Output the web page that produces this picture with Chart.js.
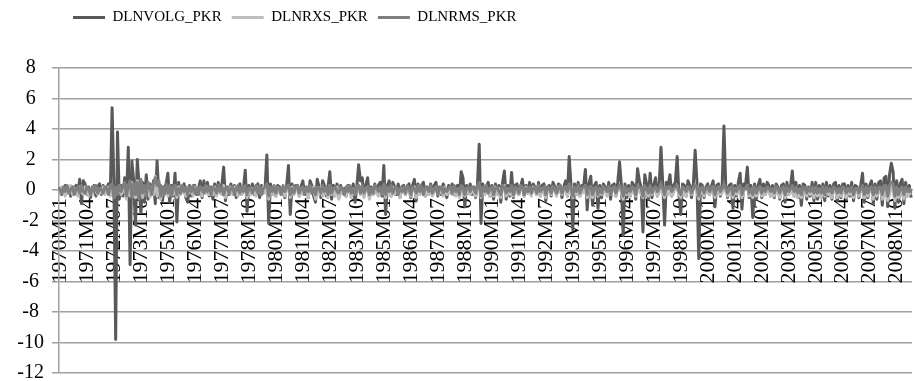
<!DOCTYPE html>
<html>
<head>
<meta charset="utf-8">
<script src="https://cdn.jsdelivr.net/npm/chart.js@4.4.0/dist/chart.umd.min.js"></script>
<style>
  html, body { margin: 0; padding: 0; background: #fff; }
</style>
</head>
<body>
<canvas id="chart" width="915" height="381"></canvas>
<script>
// monthly values, 1970M01 .. 2009M06, one row per year
const dlnvolg = [
  0.2, -0.3, 0.1, 0.3, -0.2, 0.1, -0.4, 0.2, 0.0, 0.3, -0.2, 0.7,
  -0.9, 0.6, 0.4, -0.3, 0.2, -0.5, 0.1, 0.3, -0.4, 0.2, 0.4, -0.3,
  0.3, -0.2, 0.1, 0.4, -0.3, 5.4, 0.5, -9.8, 3.8, -0.6, 0.3, -0.4,
  0.8, -0.5, 2.8, -4.9, 1.9, 0.6, -2.3, 2.0, 0.3, -1.5, 0.5, -0.8,
  1.0, -0.6, 0.4, -0.3, 0.6, -0.9, 1.9, -0.5, 0.3, -0.7, 0.2, 0.4,
  1.1, -0.8, 0.3, -0.4, 1.1, -2.1, 0.5, -0.3, 0.2, 0.4, -0.5, -0.8,
  0.3, -0.4, 0.2, 0.3, -0.3, 0.1, 0.6, -0.5, 0.6, -0.2, 0.5, -0.4,
  0.2, -0.6, 0.4, -0.3, 0.5, -0.2, 0.3, 1.5, -0.7, 0.2, -0.3, 0.4,
  -0.2, 0.3, -0.5, 0.2, 0.4, -0.3, 0.1, 1.3, -1.4, 0.3, -0.2, 0.4,
  -0.3, 0.2, 0.4, -0.5, 0.3, -0.2, 0.1, 2.3, -2.2, 0.4, -0.3, 0.2,
  -0.4, 0.3, 0.2, -0.3, 0.1, -0.5, 0.3, 1.6, -1.6, 0.4, -0.2, 0.3,
  0.3, -0.4, 0.2, 0.6, -0.3, 0.2, -0.5, 0.6, 0.3, -0.4, -0.8, 0.7,
  0.2, -0.5, 0.6, 0.3, -0.4, 0.2, 1.2, -0.6, 0.3, -0.2, 0.4, -0.5,
  0.3, -0.2, 0.1, -0.4, 0.3, 0.2, -0.3, 0.4, -0.8, 0.2, 1.65, 0.6,
  0.8, -0.4, 0.3, 0.8, -0.5, 0.2, -0.3, 0.4, -0.2, 0.3, 0.5, -0.4,
  1.6, -1.6, 0.3, 0.6, -0.4, 0.5, 0.2, -0.3, 0.4, -0.5, 0.2, 0.3,
  -0.3, 0.2, 0.4, -0.5, 0.3, 0.7, -0.7, 0.4, -0.2, 0.3, 0.5, -0.4,
  0.2, -0.3, 0.4, -0.2, 0.3, 0.5, -0.4, 0.2, -0.3, 0.4, 0.1, -0.5,
  0.3, -0.2, 0.4, -0.3, 0.2, 0.3, -0.4, 1.2, 0.8, -1.1, 0.3, -0.2,
  0.4, -0.3, 0.2, -0.5, 0.3, 3.0, -2.2, 0.4, -0.3, 0.2, 0.5, -0.4,
  0.3, -0.6, 0.4, -0.2, 0.3, -0.8, 0.5, 1.25, -0.6, 0.3, -0.4, 1.15,
  -0.5, 0.3, 0.4, -0.3, 0.2, 0.7, -0.4, 0.3, -0.2, 0.5, -0.3, 0.4,
  0.2, -0.3, 0.5, -0.4, 0.3, 0.4, -0.7, 0.2, 0.3, -0.4, 0.5, 0.2,
  -0.3, 0.4, 0.3, -0.5, 0.2, 0.6, -0.4, 2.2, 0.3, -2.6, 0.4, -0.3,
  0.5, -0.4, 0.3, 0.2, 1.35, -1.3, 0.4, 0.9, -1.0, 0.3, 0.5, -1.2,
  0.3, -0.5, 0.4, 0.2, -0.3, 0.5, -0.6, 0.3, 0.4, -0.4, 0.5, 1.85,
  0.3, -3.0, 0.4, -0.5, 0.3, -0.4, 0.5, 0.3, -0.6, 1.4, 0.6, 0.2,
  -2.75, 1.0, 0.4, -0.6, 1.1, -0.5, 0.3, 0.8, -0.4, 0.3, 2.8, 0.4,
  -2.3, 0.5, 0.3, 1.0, -0.4, 0.3, 0.5, 2.2, -0.3, -1.6, 0.4, 0.3,
  -0.4, 0.6, 0.3, -0.5, 0.4, 2.6, 0.5, -4.5, 0.4, 0.3, -0.5, 0.2,
  0.4, -0.3, 0.2, 0.6, -1.1, 0.3, 0.4, -0.4, 0.2, 4.2, 0.3, -0.5,
  0.3, 0.4, -1.2, 0.3, -0.4, 0.5, 1.1, -1.25, 0.4, 0.3, 1.5, -0.5,
  0.3, -1.8, 0.4, -0.6, 0.3, 0.7, -0.5, 0.4, -0.3, 0.5, 0.3, -0.4,
  0.3, -0.5, 0.4, 0.2, -0.6, 0.3, 0.4, -0.8, 0.5, -0.3, 0.2, 1.25,
  -0.4, 0.5, -0.5, 0.3, -1.0, 0.4, 0.3, -0.6, 0.2, -0.4, 0.5, -0.7,
  0.5, -0.6, 0.3, -0.5, 0.4, -0.7, 0.5, -0.4, 0.3, -0.6, 0.4, 0.5,
  -0.7, 0.3, -0.5, 0.4, 0.4, -0.6, 0.3, -0.4, 0.5, -0.7, 0.3, 0.2,
  -0.5, 0.3, 1.1, -0.8, 0.4, -0.5, 0.3, 0.6, -0.9, 0.4, -0.6, 0.5,
  0.6, -1.0, 0.8, 0.9, -1.1, 1.0, 1.75, 1.2, -1.2, 0.6, -0.8, 0.4,
  0.7, -0.9, 0.5, -0.4, 0.3, -0.5
];

const dlnrxs = [
  -0.3, 0.2, -0.1, -0.4, 0.1, -0.2, 0.3, -0.3, 0.1, -0.2, -0.4, 0.2,
  -0.1, -0.3, 0.2, -0.2, -0.4, 0.1, -0.3, 0.2, -0.1, -0.3, 0.1, -0.2,
  0.2, -0.3, -0.1, 0.2, -0.4, 0.3, -0.5, 0.1, -0.2, 0.3, -0.3, -0.1,
  0.4, -0.6, 0.3, -0.4, 0.5, -0.3, -0.5, 0.6, -0.2, 0.4, -0.5, 0.2,
  -0.3, 0.4, -0.5, 0.2, -0.3, 0.9, -0.4, 0.3, -0.6, 0.2, -0.3, 0.1,
  -0.4, 0.2, -0.2, -0.3, 0.3, -0.5, 0.2, -0.3, 0.1, -0.2, -0.4, 0.2,
  -0.2, 0.1, -0.4, 0.2, -0.1, -0.3, 0.2, -0.4, 0.1, -0.2, 0.2, -0.3,
  0.1, -0.3, 0.2, -0.4, 0.1, -0.2, -0.3, 0.3, -0.5, 0.1, -0.2, 0.2,
  -0.3, 0.2, -0.2, -0.4, 0.1, -0.3, 0.2, 0.2, -0.5, 0.1, -0.3, 0.1,
  -0.2, -0.4, 0.2, -0.1, -0.3, 0.2, -0.2, 0.3, -0.6, 0.1, -0.3, 0.2,
  -0.4, 0.1, -0.2, -0.3, 0.2, -0.4, 0.1, 0.3, -0.5, 0.2, -0.3, -0.1,
  0.2, -0.4, 0.1, -0.3, -0.2, 0.2, -0.5, 0.1, -0.2, 0.2, -0.6, 0.1,
  -0.3, 0.2, -0.4, 0.1, -0.2, -0.5, 0.3, -0.3, 0.1, -0.4, 0.2, -0.6,
  -0.2, 0.1, -0.3, -0.4, 0.2, -0.2, -0.5, 0.1, -0.3, 0.2, 0.3, -0.3,
  0.2, -0.5, 0.1, 0.2, -0.6, 0.1, -0.3, 0.2, -0.2, -0.4, 0.1, -0.3,
  0.3, -0.5, 0.1, -0.2, -0.4, 0.2, -0.3, 0.1, -0.2, -0.5, 0.1, -0.1,
  -0.3, 0.2, -0.2, -0.4, 0.1, 0.2, -0.5, 0.1, -0.3, 0.2, -0.2, -0.4,
  0.1, -0.3, 0.2, -0.4, -0.1, 0.2, -0.3, -0.2, 0.1, -0.4, 0.2, -0.3,
  -0.2, 0.1, -0.3, 0.2, -0.4, -0.1, -0.5, 0.2, 0.1, -0.4, -0.2, 0.1,
  -0.3, 0.1, -0.2, -0.4, 0.2, 0.3, -0.5, 0.1, -0.3, 0.2, -0.2, -0.4,
  0.1, -0.4, 0.2, -0.3, 0.1, -0.5, 0.2, 0.3, -0.4, 0.1, -0.3, 0.2,
  -0.4, 0.1, -0.2, -0.3, 0.2, 0.1, -0.4, 0.2, -0.2, -0.1, -0.4, 0.2,
  -0.1, -0.3, 0.2, -0.4, 0.1, -0.2, -0.5, 0.1, -0.2, -0.3, 0.2, -0.1,
  -0.4, 0.2, -0.1, -0.3, 0.1, 0.2, -0.4, 0.3, -0.2, -0.5, 0.1, -0.3,
  0.2, -0.4, 0.1, -0.2, 0.3, -0.5, 0.1, 0.2, -0.5, -0.2, 0.1, -0.4,
  -0.2, -0.3, 0.2, -0.1, -0.4, 0.2, -0.3, -0.1, 0.2, -0.4, 0.1, 0.2,
  -0.2, -0.6, 0.1, -0.3, -0.1, -0.4, 0.2, -0.2, -0.4, 0.2, -0.1, -0.3,
  -0.5, 0.2, -0.2, -0.4, 0.2, -0.3, -0.1, 0.2, -0.4, -0.2, 0.3, -0.2,
  -0.5, 0.1, -0.3, 0.2, -0.4, -0.2, 0.1, 0.3, -0.3, -0.5, 0.1, -0.2,
  -0.4, 0.2, -0.1, -0.3, 0.1, 0.3, -0.2, -0.6, 0.1, -0.2, -0.4, 0.1,
  -0.2, -0.3, 0.1, 0.2, -0.5, -0.1, 0.2, -0.3, -0.2, 0.3, -0.1, -0.4,
  0.1, -0.2, -0.5, 0.1, -0.3, 0.2, 0.2, -0.5, -0.1, 0.1, 0.3, -0.4,
  -0.2, -0.5, 0.1, -0.4, -0.1, 0.2, -0.4, -0.2, -0.3, 0.1, -0.2, -0.4,
  -0.1, -0.4, 0.2, -0.2, -0.5, 0.1, -0.1, -0.5, 0.1, -0.3, -0.2, 0.2,
  -0.4, 0.1, -0.5, -0.2, -0.5, 0.1, -0.2, -0.4, 0.1, -0.3, -0.1, -0.5,
  0.1, -0.4, -0.2, -0.5, 0.1, -0.4, 0.1, -0.3, -0.2, -0.5, 0.1, -0.1,
  -0.5, -0.1, -0.4, 0.1, -0.2, -0.5, 0.1, -0.3, -0.1, -0.5, -0.2, 0.1,
  -0.4, -0.1, 0.2, -0.5, -0.2, -0.4, 0.1, -0.1, -0.6, 0.1, -0.4, -0.2,
  0.1, -0.6, -0.2, 0.2, -0.7, -0.3, 0.2, 0.1, -0.7, -0.2, -0.5, -0.1,
  -0.2, -0.6, 0.1, -0.4, -0.2, -0.3
];

const dlnrms = [
  0.1, -0.3, 0.2, -0.1, 0.3, -0.2, 0.0, 0.2, -0.3, 0.1, 0.2, -0.2,
  0.3, -0.1, -0.2, 0.2, 0.1, -0.3, 0.2, -0.1, 0.3, -0.2, 0.1, 0.0,
  -0.2, 0.2, 0.1, -0.3, 0.3, 0.4, -0.5, 0.2, -0.3, 0.3, -0.1, 0.2,
  0.5, -0.4, 0.3, 0.6, -0.5, 0.4, -0.3, 0.5, -0.6, 0.7, -0.2, 0.3,
  -0.4, 0.5, 0.2, -0.3, 0.4, 0.8, 0.3, 0.6, -0.4, 0.2, -0.3, 0.4,
  -0.2, 0.3, -0.4, 0.2, 0.3, -0.3, 0.1, -0.2, 0.3, -0.1, 0.2, -0.3,
  0.2, -0.1, 0.3, -0.2, 0.1, -0.3, 0.2, 0.1, -0.2, 0.3, -0.1, 0.2,
  -0.3, 0.2, 0.1, -0.2, 0.3, -0.1, 0.2, -0.3, 0.1, 0.2, -0.2, 0.1,
  0.2, -0.3, 0.1, 0.3, -0.2, 0.2, -0.1, 0.3, -0.3, 0.1, 0.2, -0.2,
  0.1, 0.3, -0.2, 0.2, -0.3, 0.1, 0.2, 0.4, -0.4, 0.2, -0.1, 0.3,
  -0.2, 0.2, 0.1, -0.3, 0.3, -0.1, 0.2, 0.3, -0.3, 0.1, -0.2, 0.2,
  0.3, -0.2, 0.1, 0.2, -0.3, 0.2, -0.1, 0.3, -0.2, 0.1, -0.3, 0.2,
  0.1, -0.2, 0.3, -0.1, 0.2, -0.3, 0.3, -0.2, 0.1, 0.2, -0.1, -0.2,
  0.2, 0.1, -0.3, 0.2, -0.1, 0.3, -0.2, 0.1, -0.3, 0.2, 0.3, -0.2,
  0.3, -0.2, 0.1, 0.2, -0.3, 0.1, -0.2, 0.3, 0.1, -0.1, 0.2, -0.3,
  0.4, -0.3, 0.2, -0.1, 0.3, -0.2, 0.1, 0.2, -0.3, 0.1, -0.1, 0.2,
  -0.2, 0.3, 0.1, -0.3, 0.2, 0.1, -0.2, 0.3, -0.1, 0.2, -0.3, 0.1,
  0.2, -0.1, 0.3, -0.2, 0.1, 0.2, -0.3, 0.1, 0.2, -0.2, 0.1, -0.1,
  0.1, 0.2, -0.2, 0.3, -0.1, 0.1, -0.3, 0.3, 0.2, -0.3, 0.1, 0.2,
  -0.1, 0.2, 0.1, -0.2, 0.3, 0.5, -0.4, 0.2, -0.1, 0.3, -0.2, 0.1,
  0.2, -0.3, 0.1, 0.2, -0.1, -0.3, 0.3, 0.2, -0.2, 0.1, -0.1, 0.3,
  -0.3, 0.2, 0.1, -0.2, 0.3, 0.2, -0.3, 0.1, -0.1, 0.2, -0.2, 0.1,
  0.2, -0.2, 0.3, -0.1, 0.1, 0.2, -0.3, 0.2, 0.1, -0.2, 0.2, 0.1,
  -0.2, 0.1, 0.3, -0.2, 0.1, 0.2, -0.1, 0.4, 0.1, -0.4, 0.2, -0.1,
  0.3, -0.2, 0.1, 0.2, 0.3, -0.3, 0.2, 0.2, -0.3, 0.1, 0.2, -0.3,
  0.1, -0.2, 0.2, 0.1, -0.1, 0.2, -0.3, 0.1, 0.2, -0.2, 0.1, 0.3,
  0.1, -0.4, 0.2, -0.2, 0.1, -0.1, 0.2, 0.1, -0.3, 0.3, 0.2, 0.1,
  -0.4, 0.3, 0.1, -0.2, 0.3, -0.2, 0.1, 0.2, -0.1, 0.1, 0.4, 0.1,
  -0.3, 0.2, 0.1, 0.2, -0.1, 0.1, 0.2, 0.3, -0.1, -0.3, 0.2, 0.1,
  -0.1, 0.2, 0.1, -0.2, 0.1, 0.3, 0.2, -0.4, 0.1, 0.2, -0.2, 0.1,
  0.2, -0.1, 0.1, 0.2, -0.3, 0.1, 0.2, -0.1, 0.1, 0.4, 0.1, -0.2,
  0.1, 0.2, -0.3, 0.1, -0.1, 0.2, 0.3, -0.3, 0.1, 0.1, 0.3, -0.2,
  0.1, -0.3, 0.2, -0.2, 0.1, 0.2, -0.2, 0.1, -0.1, 0.2, 0.1, -0.1,
  0.1, -0.2, 0.2, 0.1, -0.2, 0.1, 0.2, -0.3, 0.2, -0.1, 0.1, 0.3,
  -0.1, 0.2, -0.2, 0.1, -0.3, 0.2, 0.1, -0.2, 0.1, -0.1, 0.2, -0.2,
  0.2, -0.2, 0.1, -0.2, 0.2, -0.3, 0.2, -0.1, 0.1, -0.2, 0.2, 0.1,
  -0.2, 0.1, -0.2, 0.2, 0.1, -0.2, 0.1, -0.1, 0.2, -0.3, 0.1, 0.1,
  -0.2, 0.1, 0.3, -0.3, 0.2, -0.2, 0.1, 0.2, -0.3, 0.2, -0.2, 0.2,
  0.2, -0.3, 0.3, 0.3, -0.4, 0.3, 0.5, 0.4, -0.4, 0.2, -0.3, 0.1,
  0.2, -0.3, 0.2, -0.1, 0.1, -0.2
];

// category labels 1970M01 ...
const months = [];
for (let i = 0; i < dlnvolg.length; i++) {
  const y = 1970 + Math.floor(i / 12);
  const m = (i % 12) + 1;
  months.push(y + 'M' + (m < 10 ? '0' + m : m));
}
const labelEvery = 15;

const serif = 'Liberation Serif, Times New Roman, serif';

// push legend to the left and leave room under it
const legendPlace = {
  id: 'legendPlace',
  beforeInit(chart) {
    const fit = chart.legend.fit;
    chart.legend.fit = function () {
      fit.call(this);
      this.height = 68;
    };
  },
  afterLayout(chart) {
    chart.legend.left = 63;
  }
};

// scales should not push the plot area in, layout padding does that
const noPad = (s) => {
  s.paddingLeft = 0;
  s.paddingRight = 0;
  s.paddingTop = 0;
  s.paddingBottom = 0;
};

const line = (label, data, color, order) => ({
  label: label,
  data: data,
  borderColor: color,
  backgroundColor: color,
  borderWidth: 3,
  pointRadius: 0,
  tension: 0,
  borderJoinStyle: 'round',
  order: order
});

new Chart(document.getElementById('chart'), {
  type: 'line',
  data: {
    labels: months,
    datasets: [
      line('DLNVOLG_PKR', dlnvolg, '#595959', 3),
      line('DLNRXS_PKR', dlnrxs, '#bdbdbd', 2),
      line('DLNRMS_PKR', dlnrms, '#7f7f7f', 1)
    ]
  },
  options: {
    responsive: false,
    animation: false,
    layout: { padding: { left: 0, right: 3, top: 0, bottom: 8 } },
    plugins: {
      tooltip: { enabled: false },
      legend: {
        align: 'start',
        labels: {
          usePointStyle: true,
          pointStyle: 'line',
          pointStyleWidth: 32,
          padding: 10,
          color: '#000',
          font: { family: serif, size: 15 },
          sort: (a, b) => a.datasetIndex - b.datasetIndex
        }
      }
    },
    scales: {
      x: {
        position: { y: 0 },
        offset: true,
        afterFit: noPad,
        grid: { display: false, drawTicks: false },
        border: { display: true, color: '#a0a0a0', width: 1.5 },
        ticks: {
          autoSkip: false,
          maxRotation: 90,
          minRotation: 90,
          padding: 8,
          color: '#000',
          font: { family: serif, size: 22 },
          callback: (v, i) => (i % labelEvery === 0 ? months[i] : null)
        }
      },
      y: {
        min: -12,
        max: 8,
        afterFit: (s) => { noPad(s); s.width = 59; },
        grid: { color: '#a0a0a0', lineWidth: 1.5, tickLength: 7 },
        border: { color: '#a0a0a0', width: 1.5 },
        ticks: {
          stepSize: 2,
          padding: 8,
          crossAlign: 'center',
          color: '#000',
          font: { family: serif, size: 20 }
        }
      }
    }
  },
  plugins: [legendPlace]
});
</script>
</body>
</html>
